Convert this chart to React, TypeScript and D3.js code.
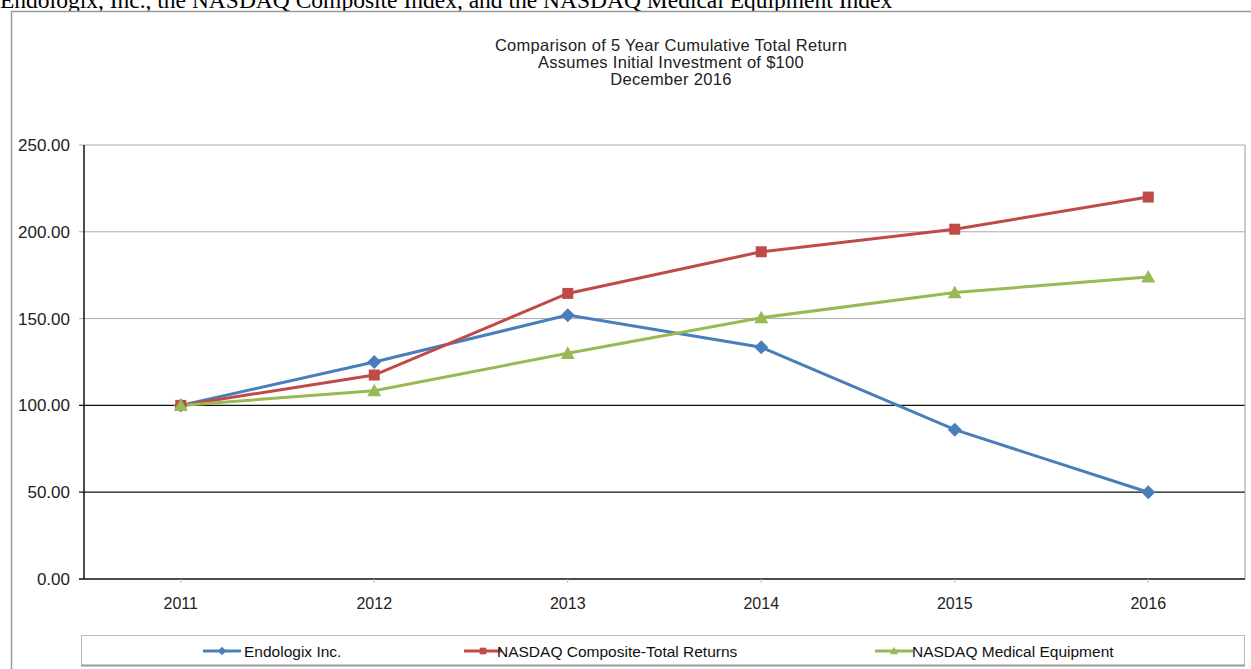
import React from "react";
import * as d3 from "d3";

const years = ["2011", "2012", "2013", "2014", "2015", "2016"];
const endologix = [100, 125, 152, 133.5, 86, 50];
const nasdaqComposite = [100, 117.5, 164.5, 188.5, 201.5, 220];
const nasdaqMedical = [100, 108.5, 130, 150.5, 165, 174];
const yTicks = [0, 50, 100, 150, 200, 250];
const darkGridValues = [50, 100];

const seriesList = [
  { name: "Endologix Inc.", values: endologix, color: "#4a7ebb", marker: "diamond" },
  { name: "NASDAQ Composite-Total Returns", values: nasdaqComposite, color: "#be4b48", marker: "square" },
  { name: "NASDAQ Medical Equipment", values: nasdaqMedical, color: "#98b954", marker: "triangle" },
];

const W = 1251;
const H = 669;
const plot = { left: 84, right: 1245, top: 145, bottom: 579 };
const font = "'Liberation Sans', Arial, sans-serif";

function Marker({ type, x, y, color }: { type: string; x: number; y: number; color: string }) {
  if (type === "diamond") {
    const s = 7;
    return <path d={`M${x},${y - s}L${x + s},${y}L${x},${y + s}L${x - s},${y}Z`} fill={color} />;
  }
  if (type === "square") {
    const s = 5.5;
    return <rect x={x - s} y={y - s} width={2 * s} height={2 * s} fill={color} />;
  }
  const s = 7;
  return <path d={`M${x},${y - s}L${x + s},${y + s * 0.8}L${x - s},${y + s * 0.8}Z`} fill={color} />;
}

export default function App() {
  const x = d3.scaleBand<string>().domain(years).range([plot.left, plot.right]);
  const xc = (d: string) => (x(d) as number) + x.bandwidth() / 2;
  const y = d3.scaleLinear().domain([0, 250]).range([plot.bottom, plot.top]);
  const line = d3
    .line<number>()
    .x((_, i) => xc(years[i]))
    .y((v) => y(v));

  const legendItems = [
    { lx: 203, tx: 244 },
    { lx: 464, tx: 497 },
    { lx: 875, tx: 912 },
  ];

  return (
    <svg
      width={W}
      height={H}
      style={{ position: "absolute", left: 0, top: 0, background: "#fff" }}
    >
      <text x={0} y={8} fontFamily="'Liberation Serif', 'Times New Roman', serif" fontSize={23.5} fill="#000">
        Endologix, Inc., the NASDAQ Composite Index, and the NASDAQ Medical Equipment Index
      </text>
      <rect x={11.5} y={11.5} width={1260} height={680} fill="#fff" stroke="#999" strokeWidth={1.5} />

      <g fontFamily={font} fontSize={16.5} fill="#222" textAnchor="middle" letterSpacing={0.3}>
        <text x={671} y={51}>Comparison of 5 Year Cumulative Total Return</text>
        <text x={671} y={68}>Assumes Initial Investment of $100</text>
        <text x={671} y={85}>December 2016</text>
      </g>

      {/* gridlines */}
      {yTicks.filter((t) => t > 0).map((t) => (
        <line
          key={t}
          x1={plot.left - 5}
          x2={plot.right}
          y1={y(t)}
          y2={y(t)}
          stroke={darkGridValues.includes(t) ? "#111" : "#aaa"}
          strokeWidth={darkGridValues.includes(t) ? 1.3 : 1}
        />
      ))}
      <line x1={plot.right} x2={plot.right} y1={plot.top} y2={plot.bottom} stroke="#999" strokeWidth={1} />
      {/* axes */}
      <line x1={plot.left} x2={plot.left} y1={plot.top} y2={plot.bottom} stroke="#111" strokeWidth={1.5} />
      <line x1={plot.left - 5} x2={plot.right} y1={plot.bottom} y2={plot.bottom} stroke="#111" strokeWidth={1.5} />

      {yTicks.map((t) => (
        <text
          key={t}
          x={70}
          y={y(t) + 6}
          textAnchor="end"
          fontFamily={font}
          fontSize={17}
          fill="#222"
        >
          {t.toFixed(2)}
        </text>
      ))}
      {years.map((yr) => (
        <g key={yr}>
          <line x1={xc(yr)} x2={xc(yr)} y1={plot.bottom} y2={plot.bottom + 4} stroke="#bbb" />
          <text x={xc(yr)} y={609} textAnchor="middle" fontFamily={font} fontSize={16} fill="#222">
            {yr}
          </text>
        </g>
      ))}

      {/* series */}
      {seriesList.map((s) => (
        <path key={s.name} d={line(s.values) || ""} fill="none" stroke={s.color} strokeWidth={3} />
      ))}
      {seriesList.map((s) =>
        s.values.map((v, i) => (
          <Marker key={s.name + i} type={s.marker} x={xc(years[i])} y={y(v)} color={s.color} />
        ))
      )}

      {/* legend */}
      <rect x={81.5} y={635.5} width={1163} height={30} fill="#fff" stroke="#bbb" strokeWidth={1} />
      <line x1={81} x2={1245} y1={665.5} y2={665.5} stroke="#999" strokeWidth={2} />
      {seriesList.map((s, i) => {
        const it = legendItems[i];
        const cy = 651;
        return (
          <g key={s.name}>
            <line x1={it.lx} x2={it.lx + 38} y1={cy} y2={cy} stroke={s.color} strokeWidth={3} />
            <g transform={`translate(${it.lx + 19},${cy}) scale(0.6) translate(${-(it.lx + 19)},${-cy})`}>
              <Marker type={s.marker} x={it.lx + 19} y={cy} color={s.color} />
            </g>
            <text x={it.tx} y={cy + 5.5} fontFamily={font} fontSize={15.5} fill="#111">
              {s.name}
            </text>
          </g>
        );
      })}
    </svg>
  );
}
